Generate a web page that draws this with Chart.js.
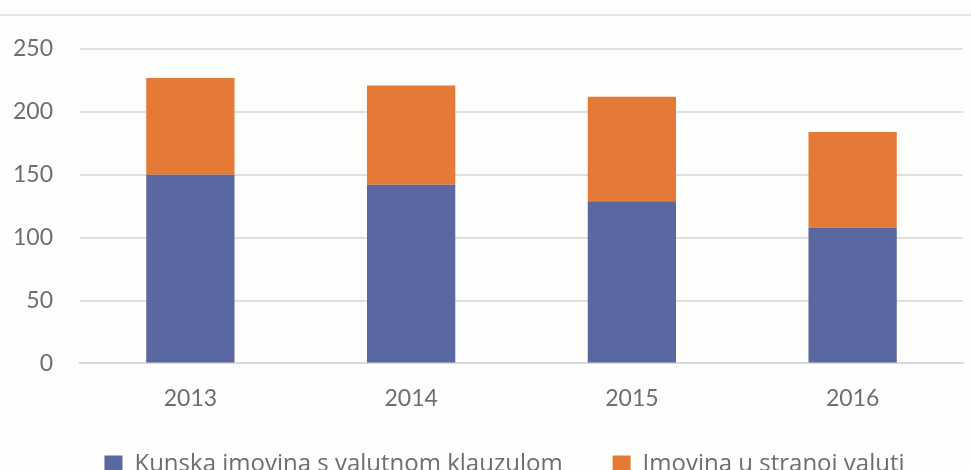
<!DOCTYPE html>
<html>
<head>
<meta charset="utf-8">
<script src="https://cdn.jsdelivr.net/npm/chart.js@4/dist/chart.umd.min.js"></script>
<style>
html,body{margin:0;padding:0;background:#fefefd;}
#wrap{position:relative;width:971px;height:470px;overflow:hidden;}
#topline{position:absolute;left:0;top:14px;width:971px;height:0;border-top:2px solid #e6e6e6;}
canvas{position:absolute;left:0;top:0;}
</style>
</head>
<body>
<div id="wrap">
<div id="topline"></div>
<canvas id="c" width="971" height="470"></canvas>
</div>
<script>
const categories = ['2013', '2014', '2015', '2016'];
const kunskaValutnaKlauzula = [150, 142, 129, 108];
const stranaValuta = [77, 79, 83, 76];
const seriesNames = ['Kunska imovina s valutnom klauzulom', 'Imovina u stranoj valuti'];
const yTicks = [0, 50, 100, 150, 200, 250];

const textColor = '#6e6e6e';
const fontFamily = 'Lato, "Open Sans", sans-serif';

// place the legend row a fixed distance below the plot area, after layout
const legendPlacer = {
  id: 'legendPlacer',
  afterLayout(chart) {
    const lg = chart.legend;
    if (!lg) return;
    const pad = lg.options.labels.padding;
    lg.top = chart.chartArea.bottom + 89 - pad;
    lg.bottom = chart.height + 30;
    lg.height = lg.bottom - lg.top;
    lg.left += 17; lg.right += 17;
  }
};

new Chart(document.getElementById('c'), {
  type: 'bar',
  data: {
    labels: categories,
    datasets: [
      { label: seriesNames[0], data: kunskaValutnaKlauzula, backgroundColor: '#5b67a1', barPercentage: 0.4, categoryPercentage: 1.0 },
      { label: seriesNames[1], data: stranaValuta, backgroundColor: '#e57a37', barPercentage: 0.4, categoryPercentage: 1.0 }
    ]
  },
  plugins: [legendPlacer],
  options: {
    responsive: false,
    animation: false,
    layout: { padding: { top: 49, right: 8, left: 12, bottom: 5 } },
    plugins: {
      legend: {
        position: 'bottom',
        maxHeight: 40,
        labels: {
          color: textColor,
          font: { family: '"Open Sans", sans-serif', size: 24 },
          boxWidth: 18, boxHeight: 18,
          padding: 50
        }
      },
      tooltip: { enabled: false }
    },
    scales: {
      x: {
        stacked: true,
        grid: { display: false },
        border: { color: '#d9d9d9', width: 2 },
        ticks: { color: textColor, font: { family: fontFamily, size: 23 }, padding: 13 }
      },
      y: {
        stacked: true,
        min: 0, max: 250,
        afterBuildTicks: (axis) => { axis.ticks = yTicks.map(v => ({ value: v })); },
        afterFit: (axis) => { axis.width = 68; },
        grid: { color: '#e0e0e0', lineWidth: 2, drawTicks: false },
        border: { display: false },
        ticks: { color: textColor, font: { family: fontFamily, size: 23 }, padding: 27 }
      }
    }
  }
});
</script>
</body>
</html>
